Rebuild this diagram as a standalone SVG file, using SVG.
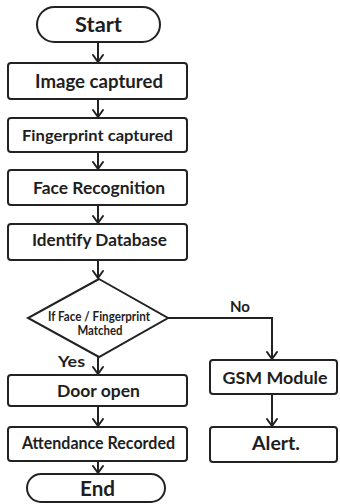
<svg xmlns="http://www.w3.org/2000/svg" width="340" height="504" viewBox="0 0 340 504">
  <defs>
    <marker id="arr" viewBox="0 0 12 12" refX="11" refY="6" markerWidth="12" markerHeight="12" markerUnits="userSpaceOnUse" orient="auto">
      <path d="M4,1 L11,6 L4,11" fill="none" stroke="#222" stroke-width="2" stroke-linecap="round" stroke-linejoin="round"/>
    </marker>
  </defs>
  <style>
    .box{fill:#fff;stroke:#222;stroke-width:2}
    .t{font-family:Lato,"Open Sans","Liberation Sans",sans-serif;font-weight:700;fill:#1e1e1e;text-anchor:middle}
    .c{fill:none;stroke:#222;stroke-width:2}
  </style>
  <rect width="340" height="504" fill="#fff"/>
  <g id="connectors">
    <line class="c" x1="98" y1="42" x2="98" y2="62" marker-end="url(#arr)"/>
    <line class="c" x1="98" y1="99" x2="98" y2="117" marker-end="url(#arr)"/>
    <line class="c" x1="98" y1="152" x2="98" y2="169" marker-end="url(#arr)"/>
    <line class="c" x1="98" y1="205" x2="98" y2="223" marker-end="url(#arr)"/>
    <line class="c" x1="98" y1="260" x2="98" y2="278" marker-end="url(#arr)"/>
    <line class="c" x1="98" y1="357" x2="98" y2="374" marker-end="url(#arr)"/>
    <polyline class="c" points="168,318 272,318 272,359" marker-end="url(#arr)"/>
    <line class="c" x1="98" y1="406" x2="98" y2="426" marker-end="url(#arr)"/>
    <line class="c" x1="98" y1="461" x2="98" y2="473" marker-end="url(#arr)"/>
    <line class="c" x1="272" y1="394" x2="272" y2="426" marker-end="url(#arr)"/>
    <text class="t" x="240" y="312" font-size="15" textLength="20" lengthAdjust="spacingAndGlyphs">No</text>
    <text class="t" x="71.5" y="367" font-size="16" textLength="27" lengthAdjust="spacingAndGlyphs">Yes</text>
  </g>
  <g id="start">
    <rect class="box" x="37" y="7" width="123" height="35" rx="17.5"/>
    <text class="t" x="98.5" y="32" font-size="20" textLength="47" lengthAdjust="spacingAndGlyphs">Start</text>
  </g>
  <g id="image-captured">
    <rect class="box" x="8" y="63" width="179" height="36" rx="3"/>
    <text class="t" x="99" y="88" font-size="19" textLength="128" lengthAdjust="spacingAndGlyphs">Image captured</text>
  </g>
  <g id="fingerprint-captured">
    <rect class="box" x="8" y="118" width="179" height="34" rx="3"/>
    <text class="t" x="97.5" y="141" font-size="16" textLength="151" lengthAdjust="spacingAndGlyphs">Fingerprint captured</text>
  </g>
  <g id="face-recognition">
    <rect class="box" x="8" y="170" width="179" height="35" rx="3"/>
    <text class="t" x="99" y="194" font-size="17" textLength="132" lengthAdjust="spacingAndGlyphs">Face Recognition</text>
  </g>
  <g id="identify-database">
    <rect class="box" x="8" y="224" width="179" height="36" rx="3"/>
    <text class="t" x="99.5" y="246" font-size="17" textLength="135" lengthAdjust="spacingAndGlyphs">Identify Database</text>
  </g>
  <g id="decision">
    <polygon class="box" points="99,279 168,318 99,357 28,318"/>
    <text class="t" x="99" y="321" font-size="12.5" textLength="102" lengthAdjust="spacingAndGlyphs">If Face / Fingerprint</text>
    <text class="t" x="100" y="335" font-size="12.5" textLength="45" lengthAdjust="spacingAndGlyphs">Matched</text>
  </g>
  <g id="door-open">
    <rect class="box" x="8" y="375" width="179" height="31" rx="3"/>
    <text class="t" x="98.5" y="397" font-size="17" textLength="83" lengthAdjust="spacingAndGlyphs">Door open</text>
  </g>
  <g id="attendance-recorded">
    <rect class="box" x="8" y="427" width="179" height="34" rx="3"/>
    <text class="t" x="98.5" y="449" font-size="16.5" textLength="153" lengthAdjust="spacingAndGlyphs">Attendance Recorded</text>
  </g>
  <g id="end">
    <rect class="box" x="27" y="474" width="138" height="28" rx="14"/>
    <text class="t" x="97.5" y="496" font-size="21" textLength="35" lengthAdjust="spacingAndGlyphs">End</text>
  </g>
  <g id="gsm-module">
    <rect class="box" x="210" y="360" width="127" height="34" rx="3"/>
    <text class="t" x="275" y="384" font-size="17" textLength="105" lengthAdjust="spacingAndGlyphs">GSM Module</text>
  </g>
  <g id="alert">
    <rect class="box" x="210" y="427" width="127" height="35" rx="3"/>
    <text class="t" x="276" y="450" font-size="19" textLength="48" lengthAdjust="spacingAndGlyphs">Alert.</text>
  </g>
</svg>
